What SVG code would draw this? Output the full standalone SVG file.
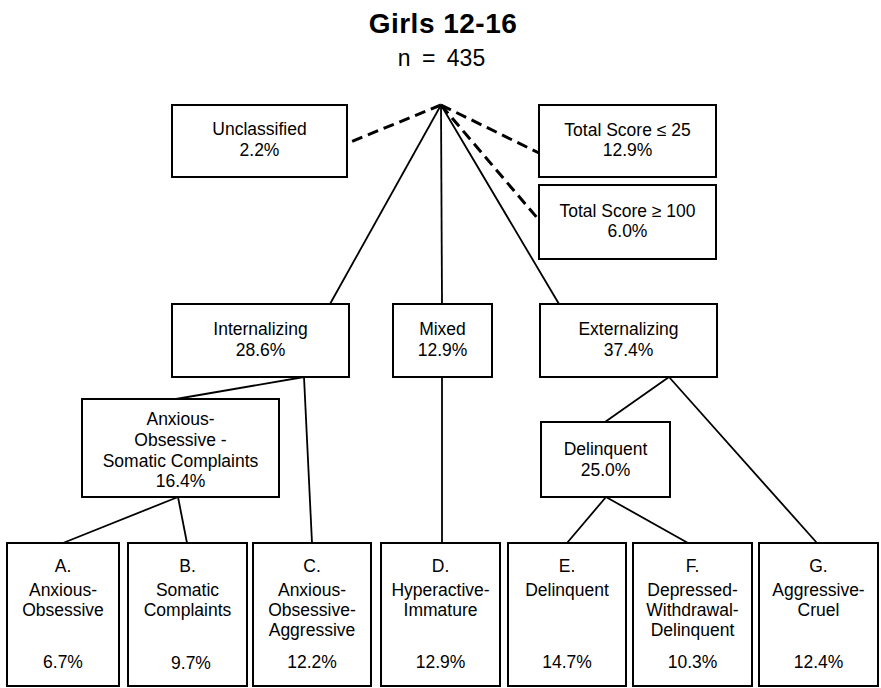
<svg xmlns="http://www.w3.org/2000/svg" width="881" height="688" viewBox="0 0 881 688">
<style>
  .box { fill: #fff; stroke: #000; stroke-width: 2; }
  .t { font-family: "Liberation Sans", Arial, sans-serif; font-size: 17.5px; fill: #000; text-anchor: middle; }
  .title { font-family: "Liberation Sans", Arial, sans-serif; font-size: 28px; font-weight: bold; fill: #000; text-anchor: middle; letter-spacing: 0.5px; }
  .sub { font-family: "Liberation Sans", Arial, sans-serif; font-size: 23px; fill: #000; text-anchor: middle; word-spacing: 5px; }
  .ln { stroke: #000; stroke-width: 1.8; fill: none; }
  .dash { stroke: #000; stroke-width: 3; fill: none; stroke-dasharray: 11 6; }
</style>
<rect width="881" height="688" fill="#fff"/>
<g id="title">
  <text class="title" x="443" y="33">Girls 12-16</text>
  <text class="sub" x="441.5" y="66">n = 435</text>
</g>
<g id="connectors">
  <line class="dash" x1="441" y1="105" x2="348" y2="143"/>
  <line class="dash" x1="441" y1="105" x2="539" y2="153"/>
  <line class="dash" x1="441" y1="105" x2="539" y2="220"/>
  <line class="ln" x1="441" y1="105" x2="330" y2="304"/>
  <line class="ln" x1="441" y1="105" x2="442" y2="304"/>
  <line class="ln" x1="441" y1="105" x2="559" y2="304"/>
  <line class="ln" x1="304" y1="377" x2="176" y2="399"/>
  <line class="ln" x1="304" y1="377" x2="312" y2="543"/>
  <line class="ln" x1="178" y1="497" x2="63" y2="543"/>
  <line class="ln" x1="178" y1="497" x2="187" y2="543"/>
  <line class="ln" x1="442" y1="377" x2="442" y2="543"/>
  <line class="ln" x1="669" y1="377" x2="605" y2="422"/>
  <line class="ln" x1="669" y1="377" x2="817" y2="543"/>
  <line class="ln" x1="606" y1="497" x2="567" y2="543"/>
  <line class="ln" x1="606" y1="497" x2="688" y2="543"/>
</g>
<g id="unclassified">
  <rect class="box" x="172" y="105" width="175" height="72"/>
  <text class="t" x="259.5" y="135">Unclassified</text>
  <text class="t" x="259.5" y="156">2.2%</text>
</g>
<g id="total-low">
  <rect class="box" x="539" y="105" width="177" height="72"/>
  <text class="t" x="627.5" y="136">Total Score ≤ 25</text>
  <text class="t" x="627.5" y="156">12.9%</text>
</g>
<g id="total-high">
  <rect class="box" x="539" y="185" width="177" height="74"/>
  <text class="t" x="627.5" y="217">Total Score ≥ 100</text>
  <text class="t" x="627.5" y="237">6.0%</text>
</g>
<g id="internalizing">
  <rect class="box" x="172" y="304" width="177" height="73"/>
  <text class="t" x="260.5" y="335">Internalizing</text>
  <text class="t" x="260.5" y="356">28.6%</text>
</g>
<g id="mixed">
  <rect class="box" x="393" y="304" width="99" height="73"/>
  <text class="t" x="442.5" y="335">Mixed</text>
  <text class="t" x="442.5" y="356">12.9%</text>
</g>
<g id="externalizing">
  <rect class="box" x="540" y="304" width="177" height="73"/>
  <text class="t" x="628.5" y="335">Externalizing</text>
  <text class="t" x="628.5" y="356">37.4%</text>
</g>
<g id="aos">
  <rect class="box" x="82" y="399" width="197" height="98"/>
  <text class="t" x="180.5" y="425">Anxious-</text>
  <text class="t" x="180.5" y="446">Obsessive -</text>
  <text class="t" x="180.5" y="467">Somatic Complaints</text>
  <text class="t" x="180.5" y="487">16.4%</text>
</g>
<g id="delinquent-group">
  <rect class="box" x="541" y="422" width="129" height="75"/>
  <text class="t" x="605.5" y="455">Delinquent</text>
  <text class="t" x="605.5" y="476">25.0%</text>
</g>
<g id="A">
  <rect class="box" x="7" y="543" width="112" height="143"/>
  <text class="t" x="63" y="572">A.</text>
  <text class="t" x="63" y="596">Anxious-</text>
  <text class="t" x="63" y="616">Obsessive</text>
  <text class="t" x="63" y="668">6.7%</text>
</g>
<g id="B">
  <rect class="box" x="128" y="543" width="119" height="143"/>
  <text class="t" x="187.5" y="572">B.</text>
  <text class="t" x="187.5" y="596">Somatic</text>
  <text class="t" x="187.5" y="616">Complaints</text>
  <text class="t" x="191" y="669">9.7%</text>
</g>
<g id="C">
  <rect class="box" x="253" y="543" width="118" height="143"/>
  <text class="t" x="312" y="572">C.</text>
  <text class="t" x="312" y="596">Anxious-</text>
  <text class="t" x="312" y="616">Obsessive-</text>
  <text class="t" x="312" y="636">Aggressive</text>
  <text class="t" x="312" y="668">12.2%</text>
</g>
<g id="D">
  <rect class="box" x="381" y="543" width="119" height="143"/>
  <text class="t" x="440.5" y="572">D.</text>
  <text class="t" x="440.5" y="596">Hyperactive-</text>
  <text class="t" x="440.5" y="616">Immature</text>
  <text class="t" x="440.5" y="668">12.9%</text>
</g>
<g id="E">
  <rect class="box" x="508" y="543" width="118" height="143"/>
  <text class="t" x="567" y="572">E.</text>
  <text class="t" x="567" y="596">Delinquent</text>
  <text class="t" x="567" y="668">14.7%</text>
</g>
<g id="F">
  <rect class="box" x="633" y="543" width="119" height="143"/>
  <text class="t" x="692.5" y="572">F.</text>
  <text class="t" x="692.5" y="596">Depressed-</text>
  <text class="t" x="692.5" y="616">Withdrawal-</text>
  <text class="t" x="692.5" y="636">Delinquent</text>
  <text class="t" x="692.5" y="668">10.3%</text>
</g>
<g id="G">
  <rect class="box" x="759" y="543" width="119" height="143"/>
  <text class="t" x="818.5" y="572">G.</text>
  <text class="t" x="818.5" y="596">Aggressive-</text>
  <text class="t" x="818.5" y="616">Cruel</text>
  <text class="t" x="818.5" y="668">12.4%</text>
</g>
</svg>
